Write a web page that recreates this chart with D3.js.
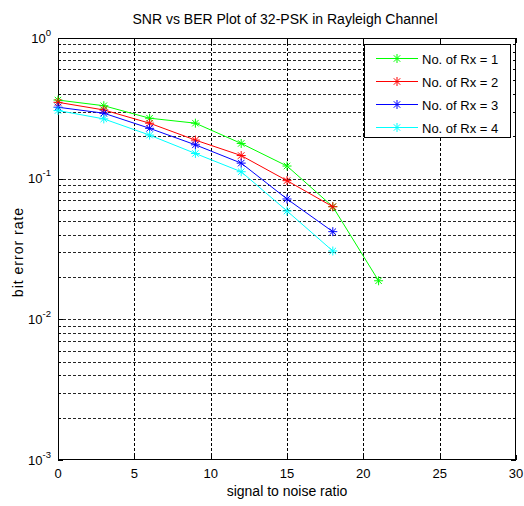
<!DOCTYPE html>
<html>
<head>
<meta charset="utf-8">
<script src="https://cdn.jsdelivr.net/npm/d3@7"></script>
<style>
  html, body { margin: 0; padding: 0; background: #fff; }
  svg { display: block; font-family: "Liberation Sans", Arial, sans-serif; }
</style>
</head>
<body>
<svg id="chart" width="524" height="506"></svg>
<script>
// SNR (dB) sample points
const snr = [0, 3, 6, 9, 12, 15, 18, 21];

// Bit error rate per number of receive antennas
const berRx1 = [0.362, 0.330, 0.269, 0.248, 0.178, 0.123, 0.0632, 0.0188];
const berRx2 = [0.349, 0.308, 0.248, 0.188, 0.146, 0.0968, 0.0632];
const berRx3 = [0.322, 0.292, 0.228, 0.174, 0.129, 0.0717, 0.042];
const berRx4 = [0.305, 0.266, 0.204, 0.151, 0.112, 0.0589, 0.0306];

const seriesNames = ["No. of Rx = 1", "No. of Rx = 2", "No. of Rx = 3", "No. of Rx = 4"];
const seriesColors = ["#00ff00", "#ff0000", "#0000ff", "#00ffff"];

const xTicks = [0, 5, 10, 15, 20, 25, 30];
const yDecades = [-3, -2, -1, 0];

const series = [berRx1, berRx2, berRx3, berRx4].map((vals, i) => ({
  name: seriesNames[i],
  color: seriesColors[i],
  points: vals.map((v, j) => ({ x: snr[j], y: v }))
}));

const svg = d3.select("#chart");
const plotL = 58, plotR = 516, plotT = 38, plotB = 460;

const x = d3.scaleLinear().domain([0, 30]).range([plotL, plotR]);
const y = d3.scaleLog().domain([1e-3, 1]).range([plotB, plotT]);

// Grid: major and minor (log) lines, dashed
const grid = svg.append("g").attr("stroke", "#000").attr("stroke-width", 1)
  .attr("stroke-dasharray", "3,2").attr("fill", "none");

xTicks.slice(1, -1).forEach(t => {
  grid.append("line")
    .attr("x1", Math.round(x(t)) + 0.5).attr("x2", Math.round(x(t)) + 0.5)
    .attr("y1", plotT).attr("y2", plotB);
});

const yGridVals = [];
for (let d = -3; d < 0; d++) {
  for (let m = 1; m <= 9; m++) {
    const v = m * Math.pow(10, d);
    if (v > 1e-3) yGridVals.push(v);
  }
}
yGridVals.forEach(v => {
  grid.append("line")
    .attr("x1", plotL).attr("x2", plotR)
    .attr("y1", Math.round(y(v)) + 0.5).attr("y2", Math.round(y(v)) + 0.5)
    .attr("stroke-opacity", 0.85);
});

// Axes frame with inward ticks
const axisG = svg.append("g").attr("stroke", "#000").attr("fill", "none");
axisG.append("rect")
  .attr("x", plotL + 0.5).attr("y", plotT + 0.5)
  .attr("width", plotR - plotL - 1).attr("height", plotB - plotT - 1)
  .attr("stroke-width", 1);

xTicks.forEach(t => {
  const px = Math.round(x(t)) + 0.5;
  axisG.append("line").attr("x1", px).attr("x2", px).attr("y1", plotB).attr("y2", plotB - 5);
  axisG.append("line").attr("x1", px).attr("x2", px).attr("y1", plotT).attr("y2", plotT + 5);
});
yGridVals.concat([1e-3, 1]).forEach(v => {
  const py = Math.round(y(v)) + 0.5;
  const major = Math.abs(Math.log10(v) - Math.round(Math.log10(v))) < 1e-9;
  const len = major ? 5 : 3;
  axisG.append("line").attr("x1", plotL).attr("x2", plotL + len).attr("y1", py).attr("y2", py);
  axisG.append("line").attr("x1", plotR).attr("x2", plotR - len).attr("y1", py).attr("y2", py);
});

// X tick labels
svg.append("g").selectAll("text").data(xTicks).join("text")
  .attr("x", d => x(d)).attr("y", plotB + 18)
  .attr("text-anchor", "middle").attr("font-size", 13).attr("fill", "#000")
  .text(d => d);

// Y tick labels: 10 with superscript exponent
const yl = svg.append("g").attr("fill", "#000");
yDecades.forEach(e => {
  const py = y(Math.pow(10, e));
  const t = yl.append("text").attr("x", plotL - 7).attr("y", py + 4.5)
    .attr("text-anchor", "end").attr("font-size", 13);
  t.append("tspan").text("10");
  t.append("tspan").attr("dy", -7).attr("font-size", 9.5).text(String(e));
});

// Title and axis labels
svg.append("text").attr("x", (plotL + plotR) / 2 - 2).attr("y", 24)
  .attr("text-anchor", "middle").attr("font-size", 14).attr("fill", "#000")
  .text("SNR vs BER Plot of 32-PSK in Rayleigh Channel");
svg.append("text").attr("x", (plotL + plotR) / 2).attr("y", 496)
  .attr("text-anchor", "middle").attr("font-size", 14).attr("fill", "#000")
  .text("signal to noise ratio");
svg.append("text")
  .attr("transform", `translate(23, ${(plotT + plotB) / 2 + 3}) rotate(-90)`)
  .attr("text-anchor", "middle").attr("font-size", 14).attr("fill", "#000")
  .attr("letter-spacing", 1)
  .text("bit error rate");

// Asterisk marker path centered at origin
function asterisk(r) {
  const d = r * 0.72;
  return `M${-r},0L${r},0M0,${-r}L0,${r}M${-d},${-d}L${d},${d}M${-d},${d}L${d},${-d}`;
}

const line = d3.line().x(d => x(d.x)).y(d => y(d.y));

const plot = svg.append("g");
series.forEach(s => {
  plot.append("path").datum(s.points)
    .attr("d", line).attr("fill", "none")
    .attr("stroke", s.color).attr("stroke-width", 1);
  plot.append("g").selectAll("path").data(s.points).join("path")
    .attr("transform", d => `translate(${x(d.x)},${y(d.y)})`)
    .attr("d", asterisk(4.5)).attr("fill", "none")
    .attr("stroke", s.color).attr("stroke-width", 1);
});

// Legend
const lg = svg.append("g");
const lgX = 364, lgY = 44, lgW = 146, lgH = 93;
lg.append("rect").attr("x", lgX + 0.5).attr("y", lgY + 0.5)
  .attr("width", lgW).attr("height", lgH)
  .attr("fill", "#fff").attr("stroke", "#000").attr("stroke-width", 1);
series.forEach((s, i) => {
  const ry = 58.5 + i * 23;
  lg.append("line").attr("x1", 376).attr("x2", 418).attr("y1", ry).attr("y2", ry)
    .attr("stroke", s.color).attr("stroke-width", 1);
  lg.append("path").attr("transform", `translate(397,${ry})`)
    .attr("d", asterisk(4.5)).attr("fill", "none").attr("stroke", s.color);
  lg.append("text").attr("x", 422).attr("y", ry + 5)
    .attr("font-size", 13).attr("fill", "#000").text(s.name);
});
</script>
</body>
</html>
